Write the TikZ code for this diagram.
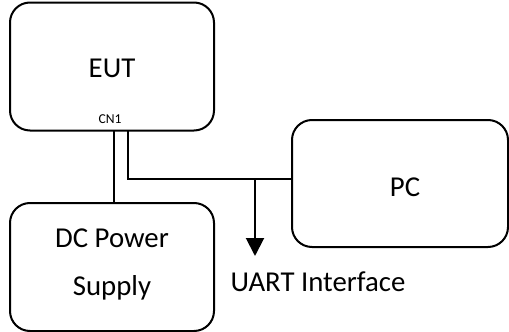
\documentclass[tikz,border=0pt]{standalone}
\usepackage{fontspec}
\setmainfont{Carlito}
\usepackage{tikz}
\usetikzlibrary{shapes,arrows.meta,positioning,calc}

\tikzset{
  unit/.style={draw,line width=1pt,rounded corners=10pt,inner sep=0pt},
  lbl/.style={font=\fontsize{14.4}{24}\selectfont,align=center},
  wire/.style={line width=1pt},
}

\begin{document}
\begin{tikzpicture}[x=0.5pt,y=-0.5pt]
\useasboundingbox (0,0) rectangle (509,332);
% the three units
\node[unit,minimum width=102pt,minimum height=64pt] (eut) at (112,66.5) {};
\node[unit,minimum width=102pt,minimum height=64pt] (dc) at (112,267) {};
\node[unit,minimum width=108pt,minimum height=63.5pt] (pc) at (400,183.5) {};
\draw (112,68) node[lbl] (eutlbl) {EUT};
\draw (112,264) node[lbl] (dclbl) {DC Power\\Supply};
\draw (405,187) node[lbl] (pclbl) {PC};
\draw (110,119) node[font=\fontsize{6.8}{7}\selectfont] (cn1) {CN1};
\draw (318,282) node[lbl] (uart) {UART Interface};
% connector pins
\coordinate (pwr) at (113.5,131);
\coordinate (dat) at (128,131);
\coordinate (tap) at (255,179);
\coordinate (tip) at (255,256);
\draw[wire] (pwr) -- (pwr |- dc.north);
\draw[wire] (dat) |- (tap) -- (tap -| pc.west);
\draw[wire,-{Triangle[width=9pt,length=9pt]}] (tap) -- (tip);
\end{tikzpicture}
\end{document}
